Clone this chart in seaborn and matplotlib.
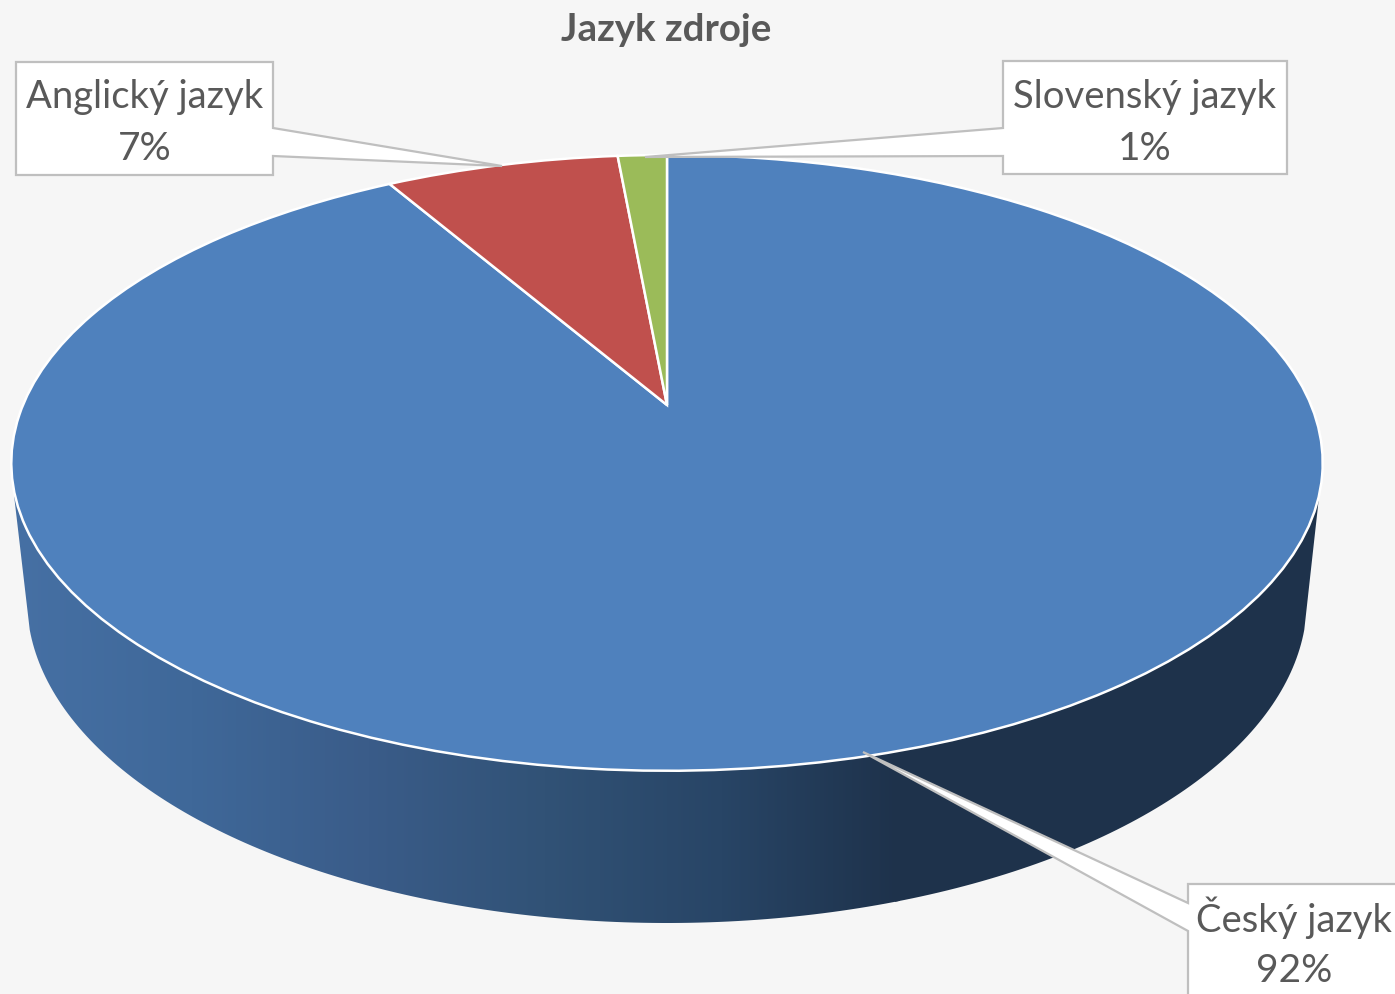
import numpy as np
import matplotlib
matplotlib.use("Agg")
import matplotlib.pyplot as plt
import seaborn as sns
from matplotlib.patches import Polygon
from matplotlib.transforms import Transform

# data
title = "Jazyk zdroje"
languages = ["Český jazyk", "Anglický jazyk", "Slovenský jazyk"]
shares = [91.65, 6.9, 1.45]
slice_colors = ["#4f81bd", "#c0504d", "#9bbb59"]
wall_colors = ["#4670a4", "#3f6899", "#3a5c89", "#315276", "#284566", "#1e324b"]

# label box outlines and text centres, in picture pixels
boxes = [
    [(1188, 884), (1410, 884), (1410, 1010), (1188, 1010), (1188, 931), (863, 752), (1188, 903)],
    [(16, 62), (273, 62), (273, 128), (502, 166), (273, 156), (273, 175), (16, 175)],
    [(1003, 61), (1287, 61), (1287, 174), (1003, 174), (1003, 156), (645, 157), (1003, 128)],
]
label_pos = [(1294, 918, 971), (145, 97, 149), (1145, 97, 149)]

W, H = 1395, 994
BG = "#f6f6f6"
TEXT = "#595959"


class Tilt(Transform):
    # unit circle of the pie -> picture pixels, nearer edge drawn bigger
    input_dims = output_dims = 2

    def transform_non_affine(self, values):
        values = np.asarray(values)
        w = 1 + 0.188 * values[:, 1]
        return np.column_stack([667 + 644 * values[:, 0] / w, 405 - 297 * values[:, 1] / w])


sns.set_theme(style="white")
plt.rcParams["font.family"] = ["Lato", "DejaVu Sans"]

fig = plt.figure(figsize=(W / 100, H / 100), dpi=100, facecolor=BG)
ax = fig.add_axes([0, 0, 1, 1])

wedges, _ = ax.pie(
    shares,
    colors=sns.color_palette(slice_colors),
    startangle=90,
    counterclock=False,
    wedgeprops={"edgecolor": "white", "linewidth": 1.8, "zorder": 2},
)
for w in wedges:
    w.set_transform(Tilt() + ax.transData)

# side wall, gradient clipped to the lower rim
t = np.radians(np.linspace(-5.3, -174.7, 200))
rim = np.column_stack([667 + 640 * np.cos(t), 600 - 323 * np.sin(t)])
wall = Polygon(np.vstack([[(1319, 497)], rim, [(14, 495)]]), closed=True, facecolor="none", edgecolor="none")
ax.add_patch(wall)
grad = np.array(sns.blend_palette(wall_colors, 256))[None, :, :]
img = ax.imshow(grad, extent=(14, 900, 994, 0), aspect="auto", zorder=1, interpolation="bilinear")
img.set_clip_path(wall)
# the right part of the wall stays flat dark
ax.fill_between([895, 1325], 450, 994, color=wall_colors[-1], zorder=1, linewidth=0, clip_path=wall)

ax.set_xlim(0, W)
ax.set_ylim(H, 0)
ax.set_aspect("auto")
ax.set_axis_off()

for name, share, box, (x, y1, y2) in zip(languages, shares, boxes, label_pos):
    ax.add_patch(Polygon(box, closed=True, facecolor="white", edgecolor="#bfbfbf", linewidth=1.6, zorder=3))
    ax.text(x, y1, name, ha="center", va="center", fontsize=27.5, color=TEXT, zorder=4)
    ax.text(x, y2, f"{share:.0f}%", ha="center", va="center", fontsize=28, color=TEXT, zorder=4)

ax.text(666, 30, title, ha="center", va="center", fontsize=27.7, fontweight="bold", color=TEXT)

fig.savefig("out.png", dpi=100, facecolor=BG)
